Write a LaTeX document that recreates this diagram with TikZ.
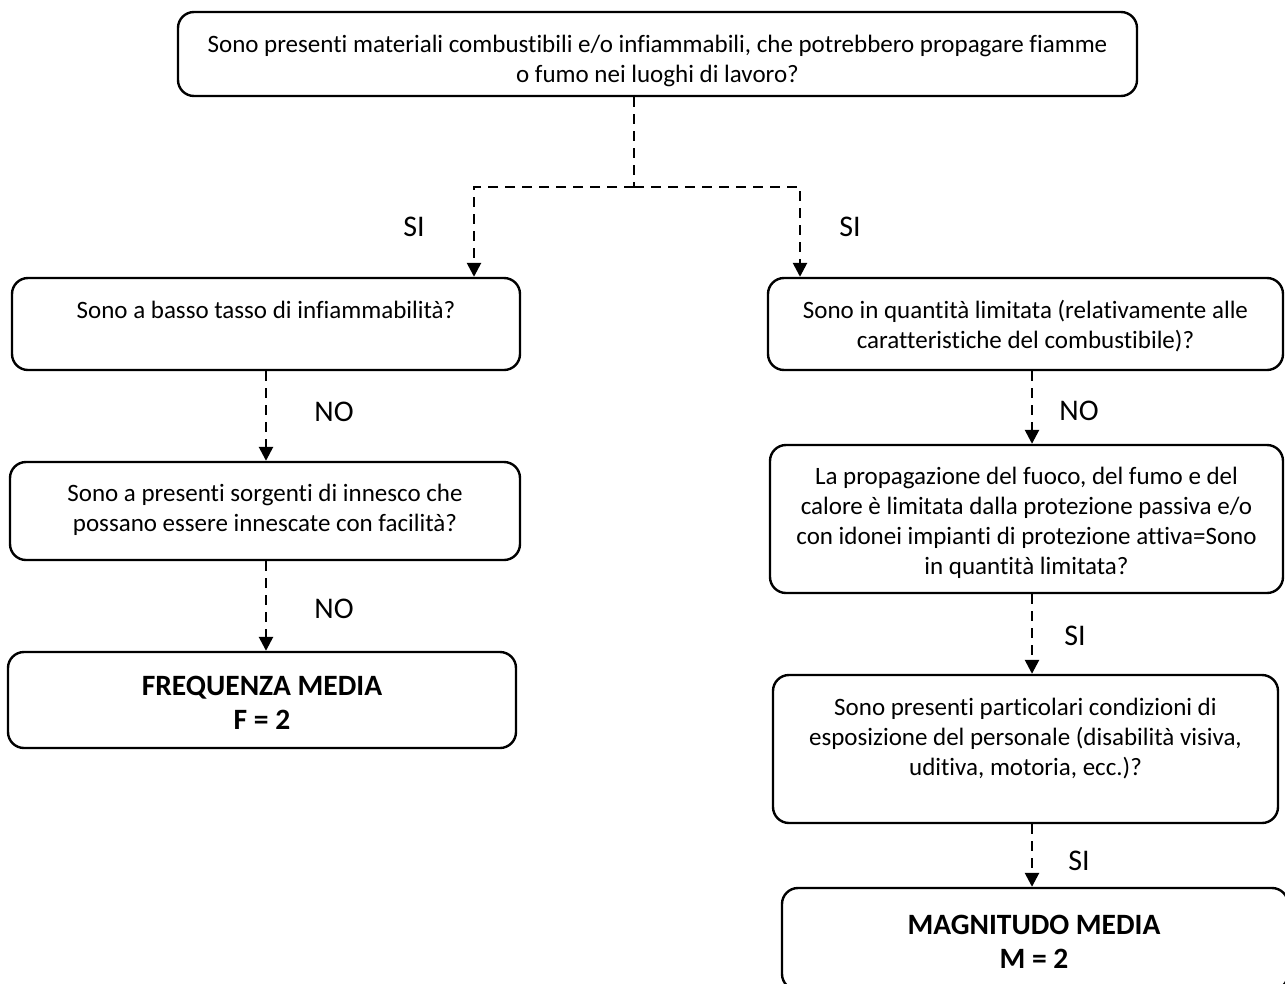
\documentclass[tikz,border=0pt]{standalone}
\usepackage{fontspec}
\setmainfont{Carlito}[Ligatures={NoCommon}]
\usetikzlibrary{arrows.meta}
\tikzset{
  box/.style={draw=black, line width=2.4pt, rounded corners=16pt, inner sep=0pt, fill=white},
  txt/.style={align=center, font=\fontsize{25}{30}\selectfont, inner sep=0pt},
  bold/.style={align=center, font=\fontsize{29.5}{34}\selectfont\bfseries, inner sep=0pt},
  lbl/.style={font=\fontsize{30}{32}\selectfont, inner sep=0pt},
  conn/.style={line width=2.6pt, dash pattern=on 10pt off 7pt},
  arr/.style={conn, -{Triangle[length=14pt,width=14pt]}}
}
\begin{document}
\begin{tikzpicture}[x=1pt,y=-1pt]
\useasboundingbox (0,0) rectangle (1285,983);
% boxes
\node[box, minimum width=959pt, minimum height=84pt] (top) at (657.5,54) {};
\node[txt] (ttop) at (657.5,61) {Sono presenti materiali combustibili e/o infiammabili, che potrebbero propagare fiamme\\o fumo nei luoghi di lavoro?};

\node[box, minimum width=508pt, minimum height=92pt] (l1) at (266,324) {};
\node[txt] (tl1) at (266,310) {Sono a basso tasso di infiammabilità?};

\node[box, minimum width=510pt, minimum height=98pt] (l2) at (265,511) {};
\node[txt] (tl2) at (265,510) {Sono a presenti sorgenti di innesco che\\possano essere innescate con facilità?};

\node[box, minimum width=508pt, minimum height=96pt] (l3) at (262,700) {};
\node[bold] (tl3) at (262,703) {FREQUENZA MEDIA\\F = 2};

\node[box, minimum width=515pt, minimum height=92pt] (r1) at (1025.5,324) {};
\node[txt] (tr1) at (1025.5,326) {Sono in quantità limitata (relativamente alle\\caratteristiche del combustibile)?};

\node[box, minimum width=513pt, minimum height=148pt] (r2) at (1026.5,519) {};
\node[txt] (tr2) at (1026.5,523) {La propagazione del fuoco, del fumo e del\\calore è limitata dalla protezione passiva e/o\\con idonei impianti di protezione attiva=Sono\\in quantità limitata?};

\node[box, minimum width=505pt, minimum height=148pt] (r3) at (1025.5,749) {};
\node[txt] (tr3) at (1025.5,739) {Sono presenti particolari condizioni di\\esposizione del personale (disabilità visiva,\\uditiva, motoria, ecc.)?};

\node[box, minimum width=506pt, minimum height=102pt] (r4) at (1035,939) {};
\node[bold] (tr4) at (1034,942) {MAGNITUDO MEDIA\\M = 2};

% connectors
\coordinate (j) at (634,187);
\coordinate (jl) at (474,187);
\coordinate (jr) at (800,187);
\draw[conn] (top.south -| j) -- (j);
\draw[arr] (j) -- (jl) -- (jl |- l1.north);
\draw[arr] (j) -- (jr) -- (jr |- r1.north);
\draw[arr] (l1.south) -- (l2.north -| l1.south);
\draw[arr] (l2.south -| l1.south) -- (l3.north -| l1.south);
\coordinate (rx) at (1032,0);
\draw[arr] (r1.south -| rx) -- (r2.north -| rx);
\draw[arr] (r2.south -| rx) -- (r3.north -| rx);
\draw[arr] (r3.south -| rx) -- (r4.north -| rx);

% labels
\node[lbl] (si1) at (414,227) {SI};
\node[lbl] (si2) at (850,227) {SI};
\node[lbl] (no1) at (334,412) {NO};
\node[lbl] (no2) at (334,609) {NO};
\node[lbl] (no3) at (1079,411) {NO};
\node[lbl] (si3) at (1075,636) {SI};
\node[lbl] (si4) at (1079,861) {SI};
\end{tikzpicture}
\end{document}
